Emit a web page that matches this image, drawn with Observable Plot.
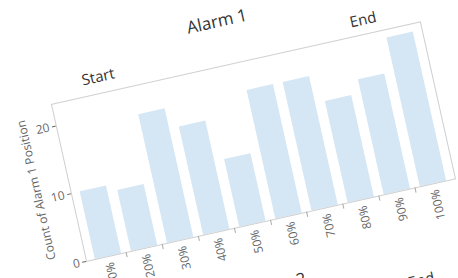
<!DOCTYPE html>
<html>
<head>
<meta charset="utf-8">
<script src="https://cdn.jsdelivr.net/npm/d3@7"></script>
<script src="https://cdn.jsdelivr.net/npm/@observablehq/plot@0.6"></script>
<style>
  html, body { margin: 0; padding: 0; background: #fff; overflow: hidden; width: 458px; height: 278px; }
  #chart { position: absolute; width: 460px; height: 420px; font-family: "Open Sans", sans-serif; }
  .t { position: absolute; transform: translate(-50%, -50%); white-space: nowrap; color: #333; }
  #plot { position: absolute; left: 0; }
</style>
</head>
<body>
<div id="chart">
  <div class="t" id="title1">Alarm 1</div>
  <div class="t" id="start1">Start</div>
  <div class="t" id="end1">End</div>
  <div id="plot"></div>
  <div class="t" id="title2">Alarm 2</div>
  <div class="t" id="end2">End</div>
</div>
<script>
// ---- data ----
const categories = ["10%", "20%", "30%", "40%", "50%", "60%", "70%", "80%", "90%", "100%"];
const counts = [10, 9, 19, 16, 10, 19, 19, 15, 17, 22];
const yTicks = [0, 10, 20];
const chartTitle = "Alarm 1";
const nextTitle = "Alarm 2";
const yLabel = "Count of Alarm 1 Position";

const data = categories.map((c, i) => ({pos: c, count: counts[i]}));

// ---- layout ----
const W = 440, H = 216, ML = 60, MR = 2, MT = 10, MB = 45;
const TOP = 70;
const px = ML, py = TOP + H - MB;
const angle = -12.6;

const xOpts = {type: "band", domain: categories, paddingInner: 0.27, paddingOuter: 0.12};
const xs = Plot.scale({x: {...xOpts, range: [ML, W - MR]}});
const step = xs.step;

const plot = Plot.plot({
  width: W, height: H,
  marginLeft: ML, marginRight: MR, marginTop: MT, marginBottom: MB,
  style: {fontFamily: "Open Sans, sans-serif", fontSize: "12px", color: "#666", background: "transparent"},
  x: {...xOpts, label: null, tickRotate: -90, tickSize: 0, tickPadding: 6},
  y: {domain: [0, 23.2], ticks: yTicks, tickSize: 4, tickPadding: 3,
      label: yLabel, labelAnchor: "center", labelOffset: 38, labelArrow: "none"},
  marks: [
    Plot.barY(data, {x: "pos", y: "count", fill: "#d5e6f5"}),
    Plot.frame({stroke: "#cfcfcf"}),
    Plot.ruleX(categories.slice(1), {x: d => d, dx: -step / 2, y1: 0, y2: -0.75, stroke: "#aaa"})
  ]
});
document.getElementById("plot").appendChild(plot);
document.getElementById("plot").style.top = TOP + "px";

function place(id, u, v, size, txt) {
  const el = document.getElementById(id);
  if (txt) el.textContent = txt;
  el.style.left = (px + u) + "px";
  el.style.top = (py - v) + "px";
  el.style.fontSize = size + "px";
}
document.getElementById("title1").textContent = chartTitle;
place("title1", 180, 206, 17);
place("start1", 52, 178, 15);
place("end1", 323, 176, 15);
place("title2", 180, -64, 17, nextTitle);
place("end2", 323, -91, 15);

const chart = document.getElementById("chart");
chart.style.left = (85.7 - px) + "px";
chart.style.top = (261 - py) + "px";
chart.style.transformOrigin = px + "px " + py + "px";
chart.style.transform = "rotate(" + angle + "deg)";
</script>
</body>
</html>
